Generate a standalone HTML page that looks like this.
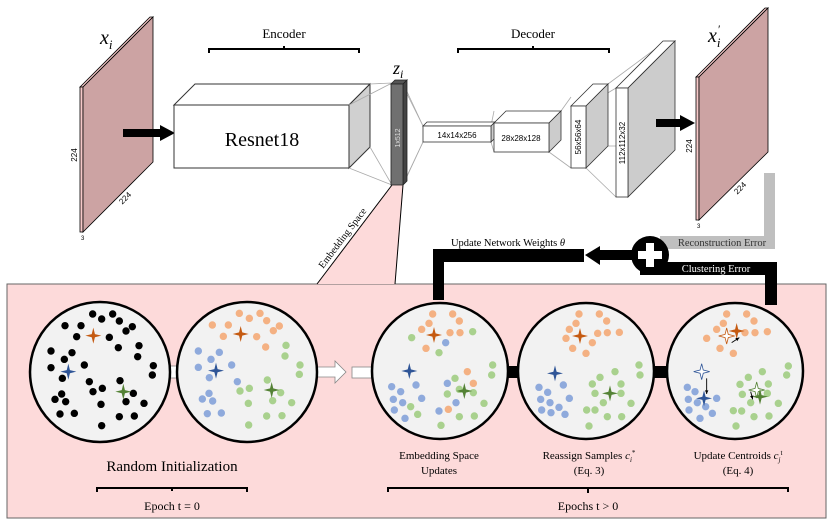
<!DOCTYPE html>
<html><head><meta charset="utf-8"><style>
html,body{margin:0;padding:0;background:#fff;width:830px;height:522px;overflow:hidden}
svg{display:block;font-family:"Liberation Serif",serif}
</style></head><body>
<svg id="s" width="830" height="522" viewBox="0 0 830 522" xmlns="http://www.w3.org/2000/svg">
<rect x="7" y="284" width="819" height="234" fill="#fddada" stroke="#666" stroke-width="1"/>
<polygon points="392,185 403,185 395,284 317,284" fill="#fddada"/>
<line x1="392" y1="185" x2="317" y2="284" stroke="#000" stroke-width="1"/>
<line x1="403" y1="185" x2="395" y2="284" stroke="#000" stroke-width="1"/>
<text x="345" y="240" font-size="10" transform="rotate(-53 345 240)" text-anchor="middle">Embedding Space</text>

<polygon points="80,87 150,17 153,17 83,87" fill="#f6c9c9" stroke="#000" stroke-width="0.8"/>
<rect x="80" y="87" width="3" height="145" fill="#f6c9c9" stroke="#000" stroke-width="0.8"/>
<polygon points="83,87 153,17 153,162 83,232" fill="#cca3a3" stroke="#000" stroke-width="0.8"/>
<text x="100" y="44" font-size="20" font-style="italic">x<tspan font-size="13" dy="5">i</tspan></text>
<text x="77" y="155" font-size="8" font-family="Liberation Sans" transform="rotate(-90 77 155)" text-anchor="middle">224</text>
<text x="127" y="200" font-size="8" font-family="Liberation Sans" transform="rotate(-45 127 200)" text-anchor="middle">224</text>
<text x="81" y="240" font-size="6" font-family="Liberation Sans">3</text>
<rect x="123" y="129" width="38" height="8" fill="#000"/><polygon points="160,125 175,133 160,141" fill="#000"/>

<polygon points="174,105 195,84 370,84 349,105" fill="#fff" stroke="#333"/>
<polygon points="349,105 370,84 370,147 349,168" fill="#d0d0d0" stroke="#333"/>
<rect x="174" y="105" width="175" height="63" fill="#fff" stroke="#333"/>
<text x="262" y="146" font-size="20" text-anchor="middle">Resnet18</text>
<path d="M209,53 V49 H359 V53 M284,49 V46" fill="none" stroke="#000" stroke-width="2"/>
<text x="284" y="38" font-size="13" text-anchor="middle">Encoder</text>
<g stroke="#aaa" stroke-width="0.8">
<line x1="370" y1="84" x2="392" y2="83"/><line x1="349" y1="105" x2="392" y2="83"/>
<line x1="370" y1="147" x2="392" y2="185"/><line x1="349" y1="168" x2="392" y2="185"/>
<line x1="403" y1="83" x2="423" y2="126"/><line x1="403" y1="185" x2="423" y2="142"/>
<line x1="405" y1="90" x2="423" y2="126"/><line x1="405" y1="180" x2="423" y2="142"/>
</g>
<polygon points="391,84 395,80 407,80 403,84" fill="#555" stroke="#222" stroke-width="0.8"/>
<polygon points="403,84 407,80 407,181 403,185" fill="#444" stroke="#222" stroke-width="0.8"/>
<rect x="391" y="84" width="12" height="101" fill="#707070" stroke="#222" stroke-width="0.8"/>
<text x="400" y="138" font-size="7" fill="#ddd" font-family="Liberation Sans" transform="rotate(-90 400 138)" text-anchor="middle">1x512</text>
<text x="393" y="74" font-size="18" font-style="italic">z<tspan font-size="12" dy="4">i</tspan></text>

<g stroke="#aaa" stroke-width="0.8">
<line x1="491" y1="126" x2="494" y2="111"/><line x1="491" y1="142" x2="494" y2="152"/>
<line x1="561" y1="111" x2="571" y2="97"/><line x1="549" y1="152" x2="571" y2="168"/>
<line x1="608" y1="84" x2="666" y2="41"/><line x1="586" y1="168" x2="616" y2="197"/>
<line x1="586" y1="106" x2="616" y2="88"/><line x1="608" y1="146" x2="616" y2="146"/>
</g>
<polygon points="423,126 427,122 495,122 491,126" fill="#fff" stroke="#333" stroke-width="0.8"/>
<polygon points="491,126 495,122 495,138 491,142" fill="#ccc" stroke="#333" stroke-width="0.8"/>
<rect x="423" y="126" width="68" height="16" fill="#fff" stroke="#333" stroke-width="0.8"/>
<text x="457" y="138" font-size="8" font-family="Liberation Sans" text-anchor="middle">14x14x256</text>
<polygon points="494,123 506,111 561,111 549,123" fill="#fff" stroke="#333" stroke-width="0.8"/>
<polygon points="549,123 561,111 561,140 549,152" fill="#ccc" stroke="#333" stroke-width="0.8"/>
<rect x="494" y="123" width="55" height="29" fill="#fff" stroke="#333" stroke-width="0.8"/>
<text x="521" y="141" font-size="8" font-family="Liberation Sans" text-anchor="middle">28x28x128</text>
<polygon points="571,106 593,84 608,84 586,106" fill="#fff" stroke="#333" stroke-width="0.8"/>
<polygon points="586,106 608,84 608,146 586,168" fill="#ccc" stroke="#333" stroke-width="0.8"/>
<rect x="571" y="106" width="15" height="62" fill="#fff" stroke="#333" stroke-width="0.8"/>
<text x="581" y="137" font-size="8" font-family="Liberation Sans" transform="rotate(-90 581 137)" text-anchor="middle">56x56x64</text>
<polygon points="616,88 663,41 675,41 628,88" fill="#fff" stroke="#333" stroke-width="0.8"/>
<polygon points="628,88 675,41 675,150 628,197" fill="#ccc" stroke="#333" stroke-width="0.8"/>
<rect x="616" y="88" width="12" height="109" fill="#fff" stroke="#333" stroke-width="0.8"/>
<text x="625" y="143" font-size="8" font-family="Liberation Sans" transform="rotate(-90 625 143)" text-anchor="middle">112x112x32</text>
<path d="M458,53 V49 H609 V53 M533,49 V46" fill="none" stroke="#000" stroke-width="2"/>
<text x="533" y="38" font-size="13" text-anchor="middle">Decoder</text>
<rect x="656" y="119" width="25" height="8" fill="#000"/><polygon points="680,115 695,123 680,131" fill="#000"/>

<polygon points="696,77 765,8 768,8 699,77" fill="#f6c9c9" stroke="#000" stroke-width="0.8"/>
<rect x="696" y="77" width="3" height="143" fill="#f6c9c9" stroke="#000" stroke-width="0.8"/>
<polygon points="699,77 768,8 768,152 699,220" fill="#cca3a3" stroke="#000" stroke-width="0.8"/>
<text x="708" y="42" font-size="20" font-style="italic">x<tspan font-size="13" dy="5">i</tspan></text>
<text x="718" y="33" font-size="12">′</text>
<text x="692" y="146" font-size="8" font-family="Liberation Sans" transform="rotate(-90 692 146)" text-anchor="middle">224</text>
<text x="742" y="190" font-size="8" font-family="Liberation Sans" transform="rotate(-45 742 190)" text-anchor="middle">224</text>
<text x="697" y="228" font-size="6" font-family="Liberation Sans">3</text>

<path d="M764,173 H775 V249 H660 V236 H764 Z" fill="#bfbfbf"/>
<text x="722" y="246" font-size="10.5" fill="#333" text-anchor="middle">Reconstruction Error</text>
<path d="M640,262 H777 V305 H765 V275 H640 Z" fill="#000"/>
<text x="716" y="272" font-size="10.5" fill="#fff" text-anchor="middle">Clustering Error</text>
<path d="M433,300 V249 H584 V262 H444 V300 Z" fill="#000"/>
<polygon points="585,255 600,246 600,265" fill="#000"/>
<rect x="598" y="250" width="40" height="10" fill="#000"/>
<circle cx="650" cy="255" r="19" fill="#000"/>
<path d="M646,243 h8 v8 h8 v8 h-8 v8 h-8 v-8 h-8 v-8 h8 Z" fill="#fff"/>
<text x="508" y="246" font-size="10.5" text-anchor="middle">Update Network Weights <tspan font-style="italic">θ</tspan></text>

<rect x="160" y="366" width="26" height="12" fill="#fff" stroke="#888" stroke-width="0.8"/>
<polygon points="317,367 335,367 335,361 346,372 335,383 335,377 317,377" fill="#fff" stroke="#888" stroke-width="0.8"/>
<rect x="352" y="367" width="26" height="11" fill="#fff" stroke="#888" stroke-width="0.8"/>
<rect x="500" y="366" width="24" height="12" fill="#000"/>
<rect x="648" y="366" width="24" height="12" fill="#000"/>
<g fill="#f2f2f2" stroke="#000" stroke-width="2.5">
<circle cx="100" cy="372" r="70"/><circle cx="247" cy="372" r="70"/>
<circle cx="440" cy="371" r="68"/><circle cx="586" cy="371" r="68"/><circle cx="735" cy="371" r="68"/>
</g>
<g id="dots"></g>

<text x="172" y="471" font-size="15" text-anchor="middle">Random Initialization</text>
<path d="M97,492 V488 H247 V492 M172,488 V491" fill="none" stroke="#000" stroke-width="2"/>
<text x="172" y="510" font-size="12" text-anchor="middle">Epoch t = 0</text>
<g font-size="11" text-anchor="middle">
<text x="439" y="459">Embedding Space</text><text x="439" y="474">Updates</text>
<text x="589" y="459">Reassign Samples <tspan font-style="italic">c</tspan><tspan font-size="7" dy="3" font-style="italic">i</tspan><tspan font-size="7" dy="-7">*</tspan></text><text x="589" y="474">(Eq. 3)</text>
<text x="738" y="459">Update Centroids <tspan font-style="italic">c</tspan><tspan font-size="7" dy="3" font-style="italic">j</tspan><tspan font-size="7" dy="-7">t</tspan></text><text x="738" y="474">(Eq. 4)</text>
</g>
<path d="M388,492 V488 H788 V492 M588,488 V493" fill="none" stroke="#000" stroke-width="2"/>
<text x="588" y="510" font-size="12" text-anchor="middle">Epochs t &gt; 0</text>
</svg>
<script>
var NS="http://www.w3.org/2000/svg",g=document.getElementById("dots");
var C={o:"#f4b183",b:"#8faadc",g:"#a9d18e",k:"#000"},S={o:"#c55a11",b:"#2f5597",g:"#548235"};
function dot(x,y,c,ox,oy){var e=document.createElementNS(NS,"circle");e.setAttribute("cx",x/3+ox);e.setAttribute("cy",y/3+oy);e.setAttribute("r",3.7);e.setAttribute("fill",C[c]);g.appendChild(e);}
function star(x,y,c,ox,oy,hollow){var cx=x/3+ox,cy=y/3+oy,r=8,w=1.6;var d="M"+cx+","+(cy-r)+" L"+(cx+w)+","+(cy-w)+" L"+(cx+r)+","+cy+" L"+(cx+w)+","+(cy+w)+" L"+cx+","+(cy+r)+" L"+(cx-w)+","+(cy+w)+" L"+(cx-r)+","+cy+" L"+(cx-w)+","+(cy-w)+"Z";var e=document.createElementNS(NS,"path");e.setAttribute("d",d);if(hollow){e.setAttribute("fill","#fff");e.setAttribute("stroke",S[c]);e.setAttribute("stroke-width","0.8");}else e.setAttribute("fill",S[c]);g.appendChild(e);}
function set(arr,c,ox,oy){for(var i=0;i<arr.length;i+=2)dot(arr[i],arr[i+1],c,ox,oy);}
set([278,132,338,132,305,147,358,153,195,167,243,167,397,170,378,183,230,200,328,202,355,233,417,227,153,243,216,248,413,260,193,268,253,285,153,293,460,287,457,315,187,325,268,335,360,332,307,355,279,365,185,372,400,370,165,388,197,395,378,395,432,400,303,403,180,432,223,430,358,440,403,438,305,467],"k",0,270);
star(280,197,"o",0,270);star(205,305,"b",0,270);star(370,365,"g",0,270);
set([718,130,780,130,748,145,800,152,637,165,685,165,838,168,820,182,670,199,770,200,797,231],"o",0,270);
set([858,226,855,258,900,285,898,313,802,330,748,355,720,363,842,368,818,392,745,400,875,398,800,438,846,437,746,465],"g",0,270);
set([595,243,658,247,633,268,595,292,695,285,628,323,712,335,627,370,607,387,638,393,622,431,664,429],"b",0,270);
star(722,192,"o",0,270);star(648,302,"b",0,270);star(815,360,"g",0,270);
set([218,72,278,72,207,100,298,93,185,118,270,128,300,128,198,175,322,245,340,280,265,358],"o",360,290);
set([338,125,155,143,237,188,398,225,395,255,285,265,262,312,298,298,340,308,372,340,152,350,173,373,298,380,343,378,243,406],"g",360,290);
set([257,158,168,285,262,280,95,290,122,305,100,328,128,338,185,325,288,338,103,360,135,385,237,363],"b",360,290);
star(222,135,"o",360,290);star(148,243,"b",360,290);star(313,303,"g",360,290);
set([657,72,718,72,648,100,740,93,628,118,713,130,742,128,778,127,618,145,697,158,638,175,678,190],"o",360,290);
set([610,285,537,292,563,307,542,328,570,338,628,325,597,352,545,360,573,368,615,373],"b",360,290);
set([765,245,837,225,840,255,720,262,697,282,783,282,705,310,783,310,730,338,813,340,705,360,680,360,742,380,785,380,687,408],"g",360,290);
star(660,138,"o",360,290);star(585,250,"b",360,290);star(750,310,"g",360,290);
set([1100,72,1160,72,1090,100,1182,93,1070,118,1155,128,1185,128,1222,125,1040,145,1080,175,1120,190],"o",360,290);
set([982,292,1005,305,985,328,1012,338,1070,325,987,360,1037,350,1057,370,1020,385],"b",360,290);
set([1207,245,1285,228,1280,255,1165,262,1140,283,1225,282,1147,313,1222,310,1172,338,1255,340,1120,362,1145,363,1182,380,1227,378,1128,408],"g",360,290);
star(1100,138,"o",360,290,1);star(1025,245,"b",360,290,1);star(1190,300,"g",360,290,1);
star(1130,123,"o",360,290);star(1032,325,"b",360,290);star(1200,320,"g",360,290);
function arr(x1,y1,x2,y2){var e=document.createElementNS(NS,"line");e.setAttribute("x1",x1/3+360);e.setAttribute("y1",y1/3+290);e.setAttribute("x2",x2/3+360);e.setAttribute("y2",y2/3+290);e.setAttribute("stroke","#000");e.setAttribute("stroke-width","0.9");g.appendChild(e);
var a=Math.atan2(y2-y1,x2-x1),tx=x2/3+360,ty=y2/3+290,p=document.createElementNS(NS,"polygon");
p.setAttribute("points",tx+","+ty+" "+(tx-4*Math.cos(a-0.45))+","+(ty-4*Math.sin(a-0.45))+" "+(tx-4*Math.cos(a+0.45))+","+(ty-4*Math.sin(a+0.45)));g.appendChild(p);}
arr(1115,158,1138,143);arr(1040,265,1040,312);arr(1172,305,1178,328);
</script>
</body></html>
